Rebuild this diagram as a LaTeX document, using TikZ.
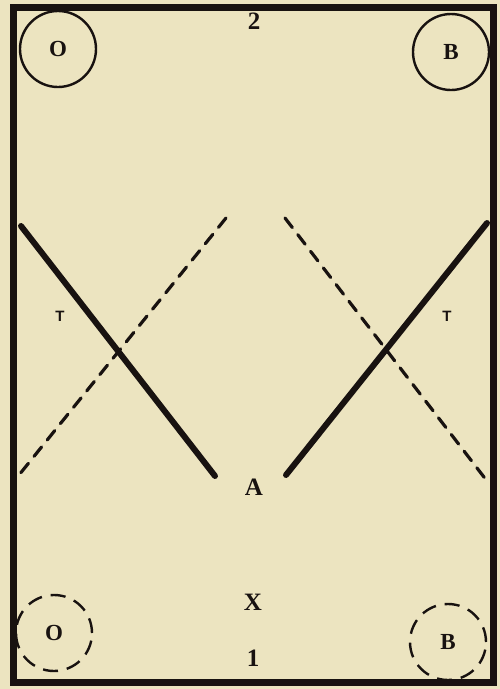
\documentclass[tikz,border=0pt]{standalone}
\usepackage{fontspec}
\setmainfont{Liberation Serif}
\setsansfont{Liberation Sans}
\definecolor{paper}{RGB}{236,228,192}
\definecolor{ink}{RGB}{24,18,16}
\tikzset{
  court/.style={draw=ink, line width=7pt},
  solidline/.style={draw=ink, line width=6pt, line cap=round},
  dashline/.style={draw=ink, line width=3.2pt, line cap=round, dash pattern=on 12pt off 9pt},
  player/.style={circle, draw=ink, line width=2.4pt, minimum size=76pt, inner sep=0pt, font=\fontsize{23}{23}\selectfont\bfseries, text=ink},
  dplayer/.style={player, dash pattern=on 15pt off 9pt},
  lab/.style={text=ink, font=\fontsize{25}{25}\selectfont\bfseries},
  tlab/.style={text=ink, font=\fontsize{15}{15}\selectfont\sffamily\bfseries}
}
\begin{document}
\begin{tikzpicture}[x=1pt,y=-1pt]
\fill[paper] (0,0) rectangle (500,689);
\useasboundingbox (0,0) rectangle (500,689);
\draw[court] (13,7) rectangle (493,682);
% positions
\node[player] (o1) at (58,49) {O};
\node[player] (b1) at (451,52) {B};
\node[dplayer] (o2) at (54,633) {O};
\node[dplayer] (b2) at (448,642) {B};
% labels
\node[lab] (n2) at (254,21) {2};
\node[lab] (a) at (254,487) {A};
\node[lab] (x) at (253,602) {X};
\node[lab] (n1) at (253,658) {1};
\node[tlab] (t1) at (60,316) {T};
\node[tlab] (t2) at (447,316) {T};
% lines
\coordinate (s1a) at (21,226);
\coordinate (s1b) at (215,476);
\coordinate (s2a) at (487,223);
\coordinate (s2b) at (286,475);
\coordinate (d1a) at (19,475);
\coordinate (d1b) at (226,218);
\coordinate (d2a) at (285,218);
\coordinate (d2b) at (487,481);
\draw[solidline] (s1a) -- (s1b);
\draw[solidline] (s2a) -- (s2b);
\draw[dashline] (d1b) -- (d1a);
\draw[dashline] (d2a) -- (d2b);
\end{tikzpicture}
\end{document}
